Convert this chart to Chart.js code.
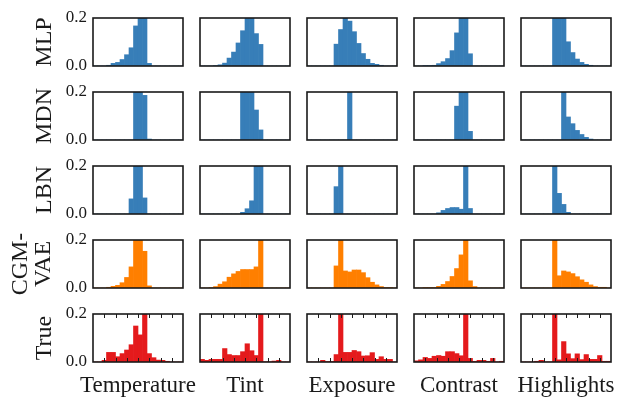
<!DOCTYPE html>
<html>
<head>
<meta charset="utf-8">
<script src="https://cdn.jsdelivr.net/npm/chart.js@4.4.0/dist/chart.umd.min.js"></script>
<style>
  body { margin: 0; background: #fff; width: 621px; height: 398px; position: relative; overflow: hidden;
         font-family: "Liberation Serif", serif; color: #1a1a1a; }
  .panel { position: absolute; }
  .row-label { position: absolute; font-size: 24px; line-height: 23px; text-align: center;
               white-space: pre-line; transform: translate(-50%, -50%) rotate(-90deg); }
  .col-title { position: absolute; font-size: 23px; line-height: 23px; width: 140px; text-align: center; }
</style>
</head>
<body>
<script>
// Histogram data: 20 bins per panel
const columnTitles = ['Temperature', 'Tint', 'Exposure', 'Contrast', 'Highlights'];
const rowLabels = ['MLP', 'MDN', 'LBN', 'CGM-\nVAE', 'True'];
const binCenters = [0.5, 1.5, 2.5, 3.5, 4.5, 5.5, 6.5, 7.5, 8.5, 9.5,
                    10.5, 11.5, 12.5, 13.5, 14.5, 15.5, 16.5, 17.5, 18.5, 19.5];
const yTicks = [0, 0.2];
const frameTickValues = [2.5, 5, 7.5, 10, 12.5, 15, 17.5];

const mlpTemperature = [0, 0, 0, 0.003, 0.011, 0.015, 0.027, 0.047, 0.076, 0.167, 0.33, 0.31, 0.011, 0, 0, 0, 0, 0, 0, 0];
const mlpTint        = [0, 0, 0, 0.002, 0.005, 0.012, 0.033, 0.058, 0.096, 0.147, 0.22, 0.21, 0.135, 0.09, 0, 0, 0, 0, 0, 0];
const mlpExposure    = [0, 0, 0, 0, 0, 0, 0.091, 0.152, 0.235, 0.187, 0.143, 0.094, 0.052, 0.028, 0.011, 0.007, 0.003, 0, 0, 0];
const mlpContrast    = [0, 0, 0.002, 0.002, 0.003, 0.01, 0.018, 0.031, 0.064, 0.138, 0.35, 0.33, 0.051, 0, 0, 0, 0, 0, 0, 0];
const mlpHighlights  = [0, 0, 0, 0, 0, 0, 0, 0.27, 0.26, 0.26, 0.101, 0.056, 0.029, 0.015, 0.007, 0.003, 0, 0, 0, 0];

const mdnTemperature = [0, 0, 0, 0, 0, 0, 0, 0, 0, 0.41, 0.4, 0.186, 0.004, 0, 0, 0, 0, 0, 0, 0];
const mdnTint        = [0, 0, 0, 0, 0, 0, 0, 0, 0, 0.28, 0.28, 0.27, 0.125, 0.042, 0, 0, 0, 0, 0, 0];
const mdnExposure    = [0, 0, 0, 0, 0, 0, 0, 0, 0, 1.0, 0, 0, 0, 0, 0, 0, 0, 0, 0, 0];
const mdnContrast    = [0, 0, 0, 0, 0, 0, 0, 0, 0, 0.141, 0.42, 0.4, 0.036, 0, 0, 0, 0, 0, 0, 0];
const mdnHighlights  = [0, 0, 0, 0, 0, 0, 0, 0, 0, 0.758, 0.096, 0.068, 0.04, 0.023, 0.011, 0.004, 0, 0, 0, 0];

const lbnTemperature = [0, 0, 0, 0, 0, 0, 0, 0, 0.063, 0.44, 0.43, 0.067, 0, 0, 0, 0, 0, 0, 0, 0];
const lbnTint        = [0, 0, 0, 0, 0, 0, 0, 0, 0, 0.007, 0.022, 0.055, 0.46, 0.456, 0, 0, 0, 0, 0, 0];
const lbnExposure    = [0, 0, 0, 0, 0, 0, 0.114, 0.886, 0, 0, 0, 0, 0, 0, 0, 0, 0, 0, 0, 0];
const lbnContrast    = [0, 0, 0, 0, 0, 0.005, 0.015, 0.023, 0.027, 0.027, 0.02, 0.86, 0.023, 0, 0, 0, 0, 0, 0, 0];
const lbnHighlights  = [0, 0, 0, 0, 0, 0, 0, 0.866, 0.086, 0.04, 0.007, 0, 0, 0, 0, 0, 0, 0, 0, 0];

const cgmTemperature = [0, 0, 0, 0.003, 0.007, 0.011, 0.022, 0.044, 0.088, 0.34, 0.32, 0.153, 0.009, 0, 0, 0, 0, 0, 0, 0];
const cgmTint        = [0, 0, 0.002, 0.006, 0.016, 0.026, 0.045, 0.059, 0.069, 0.077, 0.077, 0.077, 0.088, 0.46, 0, 0, 0, 0, 0, 0];
const cgmExposure    = [0, 0, 0, 0, 0, 0, 0.092, 0.46, 0.071, 0.067, 0.075, 0.075, 0.064, 0.043, 0.024, 0.013, 0.006, 0.002, 0.002, 0];
const cgmContrast    = [0, 0, 0.002, 0.002, 0.002, 0.007, 0.015, 0.027, 0.048, 0.081, 0.138, 0.642, 0.03, 0.006, 0, 0, 0, 0, 0, 0];
const cgmHighlights  = [0, 0, 0, 0, 0, 0, 0, 0.62, 0.051, 0.071, 0.067, 0.06, 0.047, 0.034, 0.024, 0.013, 0.006, 0.003, 0.003, 0];

const trueTemperature = [0, 0, 0.007, 0.04, 0.04, 0.022, 0.035, 0.05, 0.072, 0.15, 0.113, 0.4, 0.035, 0.018, 0.008, 0.007, 0.003, 0, 0, 0];
const trueTint        = [0.011, 0.007, 0.011, 0.011, 0.011, 0.056, 0.031, 0.027, 0.027, 0.043, 0.076, 0.047, 0.027, 0.6, 0.001, 0.001, 0.004, 0.007, 0, 0];
const trueExposure    = [0, 0, 0, 0.007, 0.002, 0.002, 0.031, 0.64, 0.04, 0.04, 0.048, 0.043, 0.025, 0.026, 0.039, 0.011, 0.022, 0.011, 0.011, 0];
const trueContrast    = [0.005, 0.009, 0.019, 0.015, 0.024, 0.027, 0.024, 0.043, 0.043, 0.035, 0.026, 0.677, 0.015, 0.003, 0.007, 0.007, 0.003, 0.015, 0, 0.003];
const trueHighlights  = [0, 0, 0, 0.003, 0.007, 0, 0, 0.718, 0.009, 0.085, 0.034, 0.014, 0.034, 0.01, 0.031, 0.011, 0.011, 0.027, 0.003, 0.003];

const panelRows = [
    [mlpTemperature, mlpTint, mlpExposure, mlpContrast, mlpHighlights],
    [mdnTemperature, mdnTint, mdnExposure, mdnContrast, mdnHighlights],
    [lbnTemperature, lbnTint, lbnExposure, lbnContrast, lbnHighlights],
    [cgmTemperature, cgmTint, cgmExposure, cgmContrast, cgmHighlights],
    [trueTemperature, trueTint, trueExposure, trueContrast, trueHighlights]
];

// Layout / style
const rowColors = ['#377eb8', '#377eb8', '#377eb8', '#ff7f00', '#e41a1c'];
const panelLefts = [93, 200, 307, 414, 521];
const panelTops = [18, 92, 166, 240, 314];
const panelW = 90, panelH = 48, padV = 12, yAxisW = 50;
const ink = '#1a1a1a';

Chart.defaults.font.family = '"Liberation Serif", serif';

// box around each panel, plus inward ticks on the bottom row
const framePlugin = {
    id: 'panelFrame',
    afterDatasetsDraw(chart, args, opts) {
        const { ctx, chartArea: a, scales } = chart;
        ctx.save();
        ctx.strokeStyle = ink;
        if (opts.ticks) {
            ctx.lineWidth = 1;
            ctx.beginPath();
            frameTickValues.forEach(v => {
                const x = Math.round(scales.x.getPixelForValue(v)) + 0.5;
                ctx.moveTo(x, a.top); ctx.lineTo(x, a.top + 4);
                ctx.moveTo(x, a.bottom); ctx.lineTo(x, a.bottom - 4);
            });
            ctx.stroke();
        }
        ctx.lineWidth = 1.6;
        ctx.strokeRect(a.left, a.top, a.right - a.left, a.bottom - a.top);
        ctx.restore();
    }
};

panelRows.forEach((row, r) => {
    row.forEach((values, c) => {
        const showY = c === 0;
        const leftExtra = showY ? yAxisW : 2;
        const box = document.createElement('div');
        box.className = 'panel';
        box.style.left = (panelLefts[c] - leftExtra) + 'px';
        box.style.top = (panelTops[r] - padV) + 'px';
        box.style.width = (leftExtra + panelW + 2) + 'px';
        box.style.height = (panelH + 2 * padV) + 'px';
        const canvas = document.createElement('canvas');
        box.appendChild(canvas);
        document.body.appendChild(box);

        new Chart(canvas, {
            type: 'bar',
            data: {
                datasets: [{
                    data: values.map((v, i) => ({ x: binCenters[i], y: v })),
                    backgroundColor: rowColors[r],
                    borderWidth: 0,
                    barPercentage: 1,
                    categoryPercentage: 1
                }]
            },
            options: {
                responsive: true,
                maintainAspectRatio: false,
                animation: false,
                events: [],
                layout: { padding: { top: padV, bottom: padV, left: showY ? 0 : 2, right: 2 } },
                plugins: {
                    legend: { display: false },
                    tooltip: { enabled: false },
                    panelFrame: { ticks: r === 4 }
                },
                scales: {
                    x: { type: 'linear', min: 0, max: 20, offset: false, display: false, grid: { offset: false } },
                    y: {
                        min: 0, max: 0.2,
                        display: showY,
                        grid: { display: false, drawTicks: false },
                        border: { display: false },
                        afterFit: s => {
                            if (showY) s.width = yAxisW;
                            s.paddingTop = 0;
                            s.paddingBottom = 0;
                        },
                        afterBuildTicks: s => { s.ticks = yTicks.map(v => ({ value: v })); },
                        ticks: {
                            padding: 6,
                            color: ink,
                            font: { size: 17 },
                            callback: v => v.toFixed(1)
                        }
                    }
                }
            },
            plugins: [framePlugin]
        });
    });
});

// Row labels (rotated) and column titles
const labelCenters = [42.5, 42.5, 42.5, 31, 42.5];
rowLabels.forEach((text, r) => {
    const div = document.createElement('div');
    div.className = 'row-label';
    div.textContent = text;
    div.style.left = labelCenters[r] + 'px';
    div.style.top = (panelTops[r] + panelH / 2) + 'px';
    document.body.appendChild(div);
});

columnTitles.forEach((text, c) => {
    const div = document.createElement('div');
    div.className = 'col-title';
    div.textContent = text;
    div.style.left = (panelLefts[c] + panelW / 2 - 70) + 'px';
    div.style.top = '373px';
    document.body.appendChild(div);
});
</script>
</body>
</html>
